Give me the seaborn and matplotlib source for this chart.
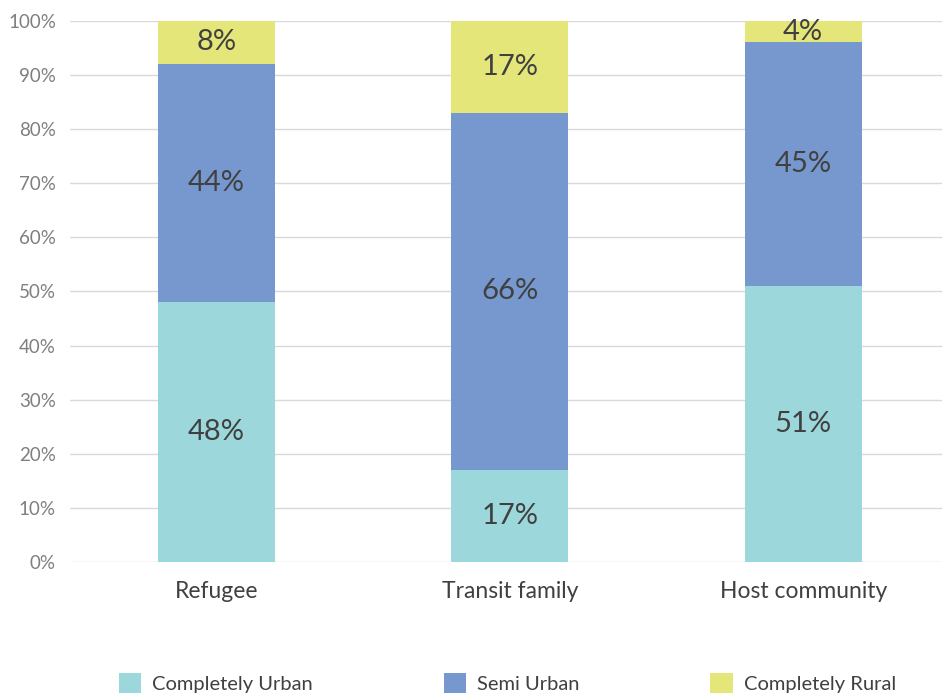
import numpy as np
import pandas as pd
import matplotlib.pyplot as plt
import seaborn as sns

# data
groups = ["Refugee", "Transit family", "Host community"]
urban = [48, 17, 51]
semi = [44, 66, 45]
rural = [8, 17, 4]
series_names = ["Completely Urban", "Semi Urban", "Completely Rural"]
colors = ["#9BD7DB", "#7698CF", "#E5E67A"]

sns.set_style("white")
plt.rcParams['font.family'] = ['Lato', 'DejaVu Sans']

fig = plt.figure(figsize=(9.42, 6.93), dpi=100)
ax = fig.add_axes([0.074, 0.189, 0.926, 0.781])

df = pd.DataFrame({"group": groups, "urban": urban, "semi": semi, "rural": rural})
bottom = np.zeros(len(groups))
for col, name, c in zip(["urban", "semi", "rural"], series_names, colors):
    sns.barplot(data=df, x="group", y=col, color=c, width=0.4, bottom=bottom,
                label=name, ax=ax, saturation=1, linewidth=0)
    vals = df[col].values
    for i, v in enumerate(vals):
        ax.text(i, bottom[i] + v / 2, f"{v}%", ha="center", va="center",
                fontsize=21, color="#404040")
    bottom = bottom + vals

ax.set_ylim(0, 100)
ax.set_xlim(-0.5, 2.473)
ax.set_yticks(range(0, 101, 10))
ax.set_yticklabels([f"{t}%" for t in range(0, 101, 10)], fontsize=13.5, color="#7F7F7F")
ax.tick_params(axis="x", labelsize=16.5, labelcolor="#404040", length=0, pad=14)
ax.tick_params(axis="y", length=0, pad=10)
ax.set_xlabel("")
ax.set_ylabel("")
ax.yaxis.grid(True, color="#D9D9D9", linewidth=1)
ax.set_axisbelow(True)
for s in ax.spines.values():
    s.set_visible(False)

if ax.legend_:
    ax.legend_.remove()
handles, labels = ax.get_legend_handles_labels()
fig.legend(handles, labels, loc="lower left", bbox_to_anchor=(0.107, -0.026),
           ncol=3, frameon=False, fontsize=14.5, handlelength=1.1, handleheight=1.1,
           handletextpad=0.55, columnspacing=6.5, labelcolor="#404040")

fig.savefig("out.png", dpi=100)
